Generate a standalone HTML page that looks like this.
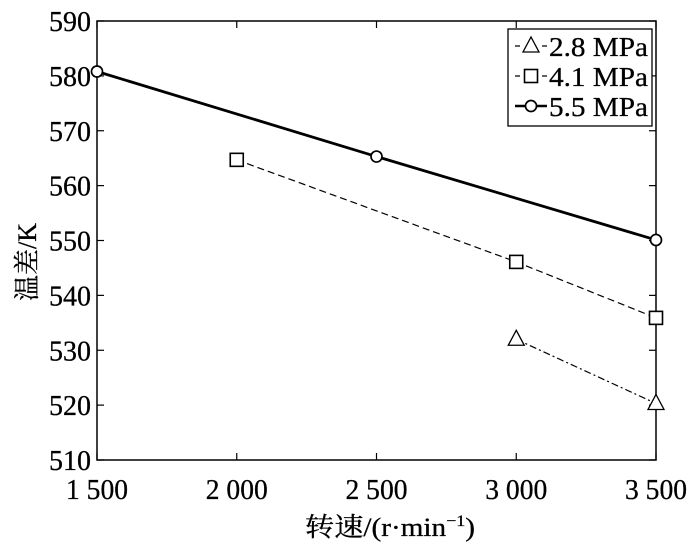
<!DOCTYPE html>
<html><head><meta charset="utf-8"><style>
html,body{margin:0;padding:0;background:#fff;}
svg{display:block;font-family:"Liberation Serif","Noto Serif CJK SC",serif;}
text{stroke:#000;stroke-width:0.3;}
</style></head><body>
<svg id="chart" width="700" height="550" viewBox="0 0 700 550"></svg>
<script>
const categories=[1500,2000,2500,3000,3500];
const xTicks=[1500,2000,2500,3000,3500];
const xTickLabels=["1 500","2 000","2 500","3 000","3 500"];
const yTicks=[510,520,530,540,550,560,570,580,590];
const s28x=[3000,3500], s28y=[532,520.3];
const s41x=[2000,3000,3500], s41y=[564.7,546.1,535.9];
const s55x=[1500,2500,3500], s55y=[580.8,565.3,550.1];
const seriesNames=["2.8 MPa","4.1 MPa","5.5 MPa"];

const L=97,R=656,T=21,B=460;
const X=v=>L+(v-1500)/(3500-1500)*(R-L);
const Y=v=>B-(v-510)/(590-510)*(B-T);
const svg=document.getElementById('chart');
const NS='http://www.w3.org/2000/svg';
function mk(t,a,p){const e=document.createElementNS(NS,t);for(const k in a)e.setAttribute(k,a[k]);(p||svg).appendChild(e);return e;}

const frame=mk('rect',{x:L,y:T,width:R-L,height:B-T,fill:'none',stroke:'#000','stroke-width':1.5});



yTicks.forEach(v=>{
  const y=Y(v);
  mk('line',{x1:L,x2:L+7,y1:y,y2:y,stroke:'#000','stroke-width':1.2});
  mk('line',{x1:R,x2:R-7,y1:y,y2:y,stroke:'#000','stroke-width':1.2});
  const t=mk('text',{x:L-6,y:y+10,'text-anchor':'end','font-size':29,textLength:42,lengthAdjust:'spacingAndGlyphs'});
  t.textContent=v;
  
  
});
xTicks.forEach((v,i)=>{
  const x=X(v);
  mk('line',{x1:x,x2:x,y1:B,y2:B-7,stroke:'#000','stroke-width':1.2});
  mk('line',{x1:x,x2:x,y1:T,y2:T+7,stroke:'#000','stroke-width':1.2});
  const t=mk('text',{x:x,y:B+39,'text-anchor':'middle','font-size':29,textLength:62,lengthAdjust:'spacingAndGlyphs'});
  t.textContent=xTickLabels[i];
  
  
});

const xt=mk('text',{x:390,y:536,'text-anchor':'middle','font-size':26,textLength:170,lengthAdjust:'spacingAndGlyphs'});
xt.innerHTML='转速/(r·min<tspan font-size="16" dy="-10">−1</tspan><tspan dy="10">)</tspan>';


const yt=mk('text',{x:0,y:0,'text-anchor':'middle','font-size':26,transform:'translate(36,262) rotate(-90)'});
yt.textContent='温差/K';



function marker(kind,x,y,g){
  if(kind==='tri') return mk('polygon',{points:`${x},${y-9} ${x-8},${y+6} ${x+8},${y+6}`,fill:'#fff',stroke:'#000','stroke-width':1.3},g);
  if(kind==='sq') return mk('rect',{x:x-6.5,y:y-6.5,width:13,height:13,fill:'#fff',stroke:'#000','stroke-width':1.6},g);
  return mk('circle',{cx:x,cy:y,r:5.5,fill:'#fff',stroke:'#000','stroke-width':1.7},g);
}
const series=[[s28x,s28y,'tri','7,3,2,3',1.2,'series-2-8-mpa'],[s41x,s41y,'sq','7,4',1.2,'series-4-1-mpa'],[s55x,s55y,'circ','',2.8,'series-5-5-mpa']];
series.forEach(([xs,ys,m,d,w,name])=>{
  const g=mk('g',{});
  
  
  const pts=xs.map((v,i)=>X(v)+','+Y(ys[i])).join(' ');
  const pl=mk('polyline',{points:pts,fill:'none',stroke:'#000','stroke-width':w,'stroke-dasharray':d},g);
  
  
  xs.forEach((v,i)=>{const p=marker(m,X(v),Y(ys[i]),g);
    
    });
});

const lg=mk('g',{});


mk('rect',{x:508,y:29,width:144,height:97,fill:'#fff',stroke:'#000','stroke-width':1.3},lg);
const kinds=['tri','sq','circ'],ws=[1.2,1.2,2.6];
seriesNames.forEach((n,i)=>{
  const y=46+i*30;
  const e=mk('g',{},lg);
  
  
  mk('line',{x1:515,x2:547,y1:y,y2:y,stroke:'#000','stroke-width':ws[i],'stroke-dasharray':i===2?'':'5,22'},e);
  marker(kinds[i],531,y,e);
  const t=mk('text',{x:549,y:y+10,'font-size':27,textLength:99,lengthAdjust:'spacingAndGlyphs'},e);
  t.textContent=n;
});
</script>
</body></html>
